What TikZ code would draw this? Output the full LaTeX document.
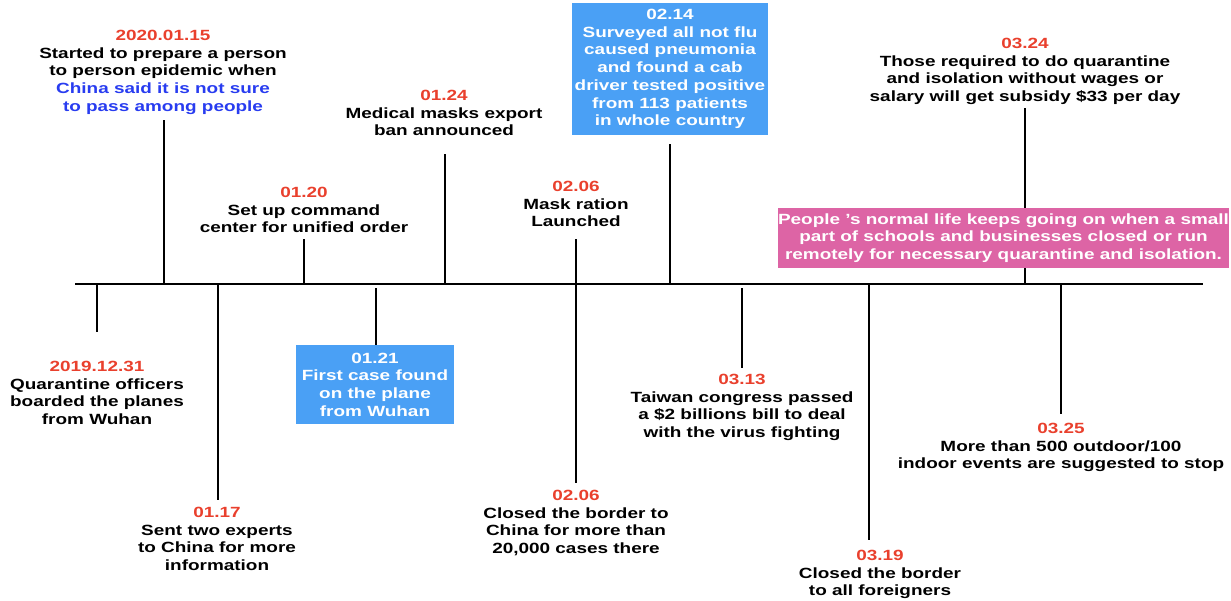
\documentclass[tikz,border=0pt]{standalone}
\usepackage{fontspec}
\setmainfont{Liberation Sans}[FakeStretch=1.28]
\definecolor{datered}{RGB}{233,64,45}
\definecolor{txtblue}{RGB}{40,60,240}
\definecolor{boxblue}{RGB}{74,160,245}
\definecolor{boxpink}{RGB}{221,100,165}
\begin{document}
\begin{tikzpicture}[x=1pt,y=-1pt,
  tlfont/.style={font=\fontsize{14.8}{17.7}\selectfont\bfseries},
  lbl/.style={tlfont,align=center,inner sep=0pt,anchor=north,text=black},
  bluebox/.style={tlfont,align=center,inner sep=0pt,fill=boxblue,text=white},
  pinkbox/.style={tlfont,align=center,inner sep=0pt,fill=boxpink,text=white},
  tick/.style={line width=2pt,black},
  axis/.style={line width=2pt,black}]
\useasboundingbox (0,0) rectangle (1231,600);
% timeline
\coordinate (L) at (75,284);
\coordinate (R) at (1203,284);
\draw[axis] (L) -- (R);
% tick coordinates
\coordinate (p1) at (97,284);   \coordinate (q1) at (97,332);
\coordinate (p2) at (164,284);  \coordinate (q2) at (164,120);
\coordinate (p3) at (218,284);  \coordinate (q3) at (218,500);
\coordinate (p4) at (304,284);  \coordinate (q4) at (304,239);
\coordinate (p5) at (376,288);
\coordinate (p6) at (445,284);  \coordinate (q6) at (445,154);
\coordinate (p7) at (576,284);  \coordinate (q7) at (576,239);
\coordinate (p8) at (576,284);  \coordinate (q8) at (576,483);
\coordinate (p9) at (670,284);  \coordinate (q9) at (670,144);
\coordinate (p10) at (742,288); \coordinate (q10) at (742,368);
\coordinate (p11) at (1025,284);\coordinate (q11) at (1025,108);
\coordinate (p12) at (869,284); \coordinate (q12) at (869,540);
\coordinate (p13) at (1061,284);\coordinate (q13) at (1061,414);
% labels above
\node[lbl] (a) at (163,29.8) {\textcolor{datered}{2020.01.15}\\Started to prepare a person\\to person epidemic when\\\textcolor{txtblue}{China said it is not sure}\\\textcolor{txtblue}{to pass among people}};
\node[lbl] (b) at (304,186.8) {\textcolor{datered}{01.20}\\Set up command\\center for unified order};
\node[lbl] (c) at (444,89.8) {\textcolor{datered}{01.24}\\Medical masks export\\ban announced};
\node[lbl] (d) at (576,180.8) {\textcolor{datered}{02.06}\\Mask ration\\Launched};
\node[bluebox,minimum width=196pt,minimum height=132pt] (e) at (670,69) {02.14\\Surveyed all not flu\\caused pneumonia\\and found a cab\\driver tested positive\\from 113 patients\\in whole country};
\node[lbl] (f) at (1025,37.8) {\textcolor{datered}{03.24}\\Those required to do quarantine\\and isolation without wages or\\salary will get subsidy \$33 per day};
% labels below
\node[lbl] (h) at (97,360.8) {\textcolor{datered}{2019.12.31}\\Quarantine officers\\boarded the planes\\from Wuhan};
\node[lbl] (i) at (217,506.8) {\textcolor{datered}{01.17}\\Sent two experts\\to China for more\\information};
\node[bluebox,minimum width=158pt,minimum height=79pt] (j) at (375,384.5) {01.21\\First case found\\on the plane\\from Wuhan};
\node[lbl] (k) at (576,489.8) {\textcolor{datered}{02.06}\\Closed the border to\\China for more than\\20,000 cases there};
\node[lbl] (l) at (742,373.8) {\textcolor{datered}{03.13}\\Taiwan congress passed\\a \$2 billions bill to deal\\with the virus fighting};
\node[lbl] (m) at (880,549.8) {\textcolor{datered}{03.19}\\Closed the border\\to all foreigners};
\node[lbl] (n) at (1061,422.8) {\textcolor{datered}{03.25}\\More than 500 outdoor/100\\indoor events are suggested to stop};
% ticks
\draw[tick] (p1) -- (q1);
\draw[tick] (p2) -- (q2);
\draw[tick] (p3) -- (q3);
\draw[tick] (p4) -- (q4);
\draw[tick] (p5) -- (j.north -| p5);
\draw[tick] (p6) -- (q6);
\draw[tick] (p7) -- (q7);
\draw[tick] (p8) -- (q8);
\draw[tick] (p9) -- (q9);
\draw[tick] (p10) -- (q10);
\draw[tick] (p11) -- (q11);
\draw[tick] (p12) -- (q12);
\draw[tick] (p13) -- (q13);
% pink box over the 03.24 tick
\node[pinkbox,minimum width=451pt,minimum height=60pt] (g) at (1003.5,238) {People 's normal life keeps going on when a small\\part of schools and businesses closed or run\\remotely for necessary quarantine and isolation.};
\end{tikzpicture}
\end{document}
